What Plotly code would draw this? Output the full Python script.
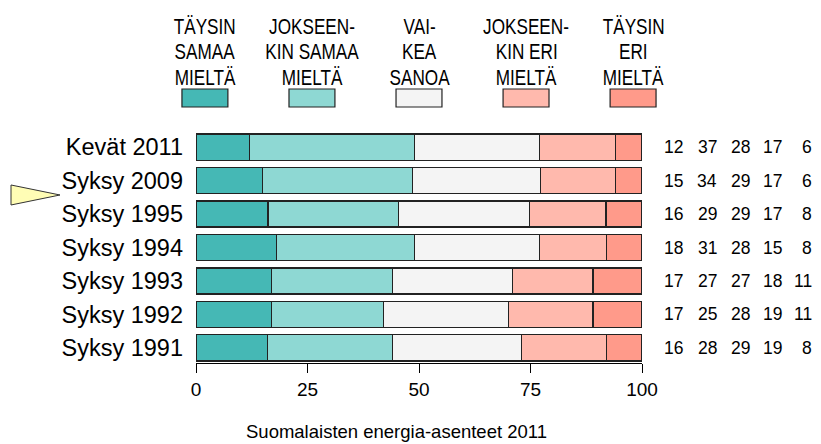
import plotly.graph_objects as go

# Survey rows, top to bottom
periods = ["Kevät 2011", "Syksy 2009", "Syksy 1995", "Syksy 1994",
           "Syksy 1993", "Syksy 1992", "Syksy 1991"]

# Answer shares (%) per category, same order as periods
taysin_samaa = [12, 15, 16, 18, 17, 17, 16]
jokseenkin_samaa = [37, 34, 29, 31, 27, 25, 28]
vaikea_sanoa = [28, 29, 29, 28, 27, 28, 29]
jokseenkin_eri = [17, 17, 17, 15, 18, 19, 19]
taysin_eri = [6, 6, 8, 8, 11, 11, 8]

series = [taysin_samaa, jokseenkin_samaa, vaikea_sanoa, jokseenkin_eri, taysin_eri]
legend_lines = [
    ["TÄYSIN", "SAMAA", "MIELTÄ"],
    ["JOKSEEN-", "KIN SAMAA", "MIELTÄ"],
    ["VAI-", "KEA", "SANOA"],
    ["JOKSEEN-", "KIN ERI", "MIELTÄ"],
    ["TÄYSIN", "ERI", "MIELTÄ"],
]
colors = ["#45B8B5", "#8ED8D3", "#F4F4F4", "#FFB9AD", "#FF9A8A"]
title_text = "Suomalaisten energia-asenteet 2011"

FONT = "Liberation Sans, Arial, sans-serif"
# legend labels are condensed in the original; squeezed later in the page
NARROW = "Liberation Sans Narrow, Arial Narrow, Liberation Sans, Arial, sans-serif"

W, H = 821, 444
L, R, T, B = 196, 642, 132, 363  # plot area in pixels


def px_x(px):
    return (px - L) / (R - L)


def px_y(py):
    return (B - py) / (B - T)


n = len(periods)
ypos = [n - 1 - i for i in range(n)]
totals = [sum(s[i] for s in series) for i in range(n)]

fig = go.Figure()
for vals, col in zip(series, colors):
    fig.add_trace(go.Bar(
        y=ypos,
        x=[v / t * 100 for v, t in zip(vals, totals)],
        orientation="h",
        width=0.78,
        marker=dict(color=col, line=dict(color="#222222", width=1.2)),
        hoverinfo="skip",
        showlegend=False,
    ))

annotations = []
# numbers on the right
col_right = [685, 719, 752, 784, 814]
for j, vals in enumerate(series):
    for i in range(n):
        annotations.append(dict(
            x=px_x(col_right[j]), xref="paper", y=ypos[i], yref="y",
            text=str(vals[i]), showarrow=False, xanchor="right", yanchor="middle",
            font=dict(family=FONT, size=17.5, color="black"),
        ))

# legend boxes and labels
shapes = []
centers = [2, 26, 50, 74, 98]
for c, col, lines in zip(centers, colors, legend_lines):
    shapes.append(dict(
        type="rect", xref="paper", yref="paper",
        x0=(c - 5.15) / 100, x1=(c + 5.15) / 100,
        y0=px_y(107), y1=px_y(89),
        fillcolor=col, line=dict(color="#222222", width=1.2),
    ))
    for k, line in enumerate(lines):
        annotations.append(dict(
            x=c / 100, xref="paper", y=px_y(27 + 25 * k), yref="paper",
            text=line, showarrow=False, xanchor="center", yanchor="middle",
            font=dict(family=NARROW, size=22, color="black"),
        ))

# pointer triangle
shapes.append(dict(
    type="path", xref="paper", yref="paper",
    path="M %f %f L %f %f L %f %f Z" % (
        px_x(11), px_y(185), px_x(11), px_y(205), px_x(60), px_y(195)),
    fillcolor="#FFFDB5", line=dict(color="#333333", width=1),
))

annotations.append(dict(
    x=px_x(396), xref="paper", y=px_y(431), yref="paper",
    text=title_text, showarrow=False, xanchor="center", yanchor="middle",
    font=dict(family=FONT, size=18.5, color="black"),
))

fig.update_layout(
    width=W, height=H,
    margin=dict(l=L, r=W - R, t=T, b=H - B),
    barmode="stack",
    plot_bgcolor="white", paper_bgcolor="white",
    font=dict(family=FONT, color="black"),
    shapes=shapes,
    annotations=annotations,
    xaxis=dict(
        range=[0, 100], tickvals=[0, 25, 50, 75, 100],
        ticks="outside", ticklen=9, tickcolor="black",
        showline=True, linecolor="black", linewidth=1,
        showgrid=False, zeroline=False,
        tickfont=dict(family=FONT, size=19, color="black"),
        fixedrange=True,
    ),
    yaxis=dict(
        range=[-0.45, n - 1 + 0.45], tickvals=ypos, ticktext=periods,
        showgrid=False, zeroline=False, showline=False, ticks="",
        ticklabelstandoff=12,
        tickfont=dict(family=FONT, size=23.5, color="black"),
        fixedrange=True,
    ),
)

squeeze = """
document.body.style.margin = '0';
function squeezeLegend() {
  document.querySelectorAll('g.annotation text').forEach(function (t) {
    if ((t.style.fontFamily || '').indexOf('Narrow') >= 0) {
      t.style.transformBox = 'fill-box';
      t.style.transformOrigin = 'center';
      t.style.transform = 'scaleX(0.78)';
    }
  });
}
squeezeLegend();
var gd = document.getElementById('{plot_id}');
if (gd && gd.on) { gd.on('plotly_afterplot', squeezeLegend); }
setTimeout(squeezeLegend, 0);
"""

fig.write_html("out.html", config={"displayModeBar": False}, post_script=squeeze)
